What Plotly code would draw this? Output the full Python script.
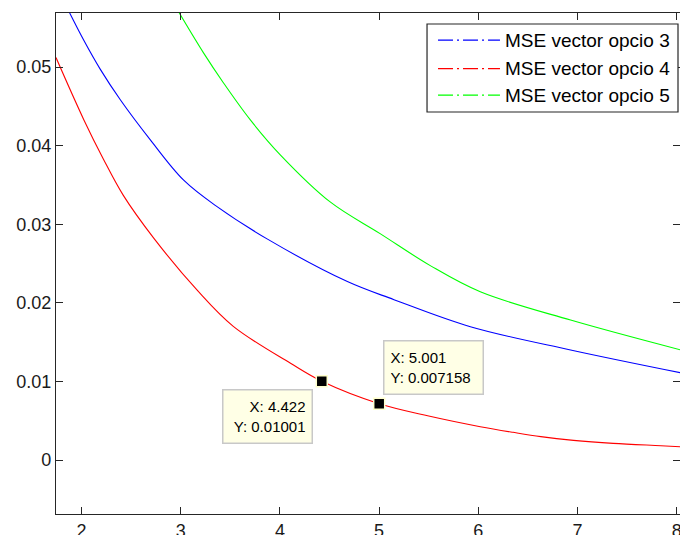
import plotly.graph_objects as go

# MSE curves for the three vector options
series_names = ["MSE vector opcio 3", "MSE vector opcio 4", "MSE vector opcio 5"]
series_colors = ["#0000ff", "#ff0000", "#00ff00"]

x_opcio3 = [1.86, 2.023, 2.19, 2.393, 2.696, 3.03, 3.37, 3.875, 4.68, 5.15, 5.92, 6.93, 8.04]
y_opcio3 = [0.0574, 0.0534, 0.0497, 0.0458, 0.0407, 0.0356, 0.0322, 0.0281, 0.0227, 0.0204, 0.01696, 0.0140, 0.0111]

x_opcio4 = [1.743, 2.023, 2.22, 2.42, 2.73, 3.166, 3.53, 4.107, 4.422, 5.001, 5.5, 6.02, 6.35, 6.63, 6.96, 7.36, 7.84, 8.04]
y_opcio4 = [0.0512, 0.0433, 0.0383, 0.0337, 0.0282, 0.0216, 0.0170, 0.0123, 0.01001, 0.007158, 0.0056, 0.00424, 0.00352, 0.00297, 0.0025, 0.00212, 0.00182, 0.00169]

x_opcio5 = [2.98, 3.23, 3.43, 3.70, 4.006, 4.51, 5.01, 5.52, 6.02, 6.93, 8.04]
y_opcio5 = [0.0570, 0.0518, 0.0480, 0.0433, 0.0388, 0.0328, 0.0288, 0.0247, 0.0214, 0.0178, 0.0140]

# data cursor points on the opcio 4 curve
tip_x = [4.422, 5.001]
tip_y = [0.01001, 0.007158]
tip_offsets = [(-54, 35), (54, -36)]
tip_widths = [76, 86]
tip_align = ["right", "left"]

x_ticks = [2, 3, 4, 5, 6, 7, 8]
y_ticks = [0, 0.01, 0.02, 0.03, 0.04, 0.05]

FONT = "Liberation Sans, Arial, sans-serif"
AXIS_COLOR = "#262626"

fig = go.Figure()

for xs, ys, name, color in zip(
    [x_opcio3, x_opcio4, x_opcio5],
    [y_opcio3, y_opcio4, y_opcio5],
    series_names,
    series_colors,
):
    fig.add_trace(go.Scatter(
        x=xs, y=ys, name=name, mode="lines",
        line=dict(color=color, width=1.1, shape="spline", smoothing=1.0),
        showlegend=False, hoverinfo="skip",
    ))

fig.add_trace(go.Scatter(
    x=tip_x, y=tip_y, mode="markers", showlegend=False,
    marker=dict(symbol="square", size=11, color="black",
                line=dict(color="#ffffcc", width=1.5)),
))

annotations = []
for xv, yv, (ax, ay), w, al in zip(tip_x, tip_y, tip_offsets, tip_widths, tip_align):
    annotations.append(dict(
        x=xv, y=yv, xref="x", yref="y", ax=ax, ay=ay,
        showarrow=True, arrowcolor="rgba(0,0,0,0)", arrowwidth=0.1,
        text=f"X: {xv:.4g}<br>Y: {yv:.4g}", align=al,
        width=w, height=40,
        font=dict(family=FONT, size=15, color="#000000"),
        bgcolor="#ffffe6", bordercolor="#c8c8c8", borderwidth=1.5,
        borderpad=6,
    ))

# legend box with dash-dot samples
shapes = [dict(
    type="rect", xref="paper", yref="paper",
    x0=0.5946, x1=0.9968, y0=0.8024, y1=0.978,
    line=dict(color=AXIS_COLOR, width=1.2), fillcolor="white", layer="above",
)]
legend_rows = [0.946, 0.889, 0.836]
for name, color, yr in zip(series_names, series_colors, legend_rows):
    shapes.append(dict(
        type="line", xref="paper", yref="paper",
        x0=0.6122, x1=0.7115, y0=yr, y1=yr,
        line=dict(color=color, width=1.2, dash="15px,4px,2px,4px"), layer="above",
    ))
    annotations.append(dict(
        x=0.716, y=yr, xref="paper", yref="paper", xanchor="left", yanchor="middle",
        showarrow=False, text=name,
        font=dict(family=FONT, size=19, color="#000000"),
    ))

axis_common = dict(
    showgrid=False, zeroline=False, showline=True, linecolor=AXIS_COLOR,
    linewidth=1.2, mirror="ticks", ticks="inside", ticklen=7, tickwidth=1.2,
    tickcolor=AXIS_COLOR, tickfont=dict(family=FONT, size=18, color="#1a1a1a"),
    ticklabeloverflow="allow", automargin=False,
)

fig.update_layout(
    width=680, height=535,
    margin=dict(l=56, r=0, t=13, b=21, autoexpand=False),
    paper_bgcolor="white", plot_bgcolor="white",
    xaxis=dict(range=[1.743, 8.033], tickvals=x_ticks, ticktext=[str(v) for v in x_ticks],
               **axis_common),
    yaxis=dict(range=[-0.00687, 0.05687], tickvals=y_ticks, ticktext=[f"{v:g}" for v in y_ticks],
               **axis_common),
    shapes=shapes, annotations=annotations, showlegend=False,
)

fig.write_html("out.html")
